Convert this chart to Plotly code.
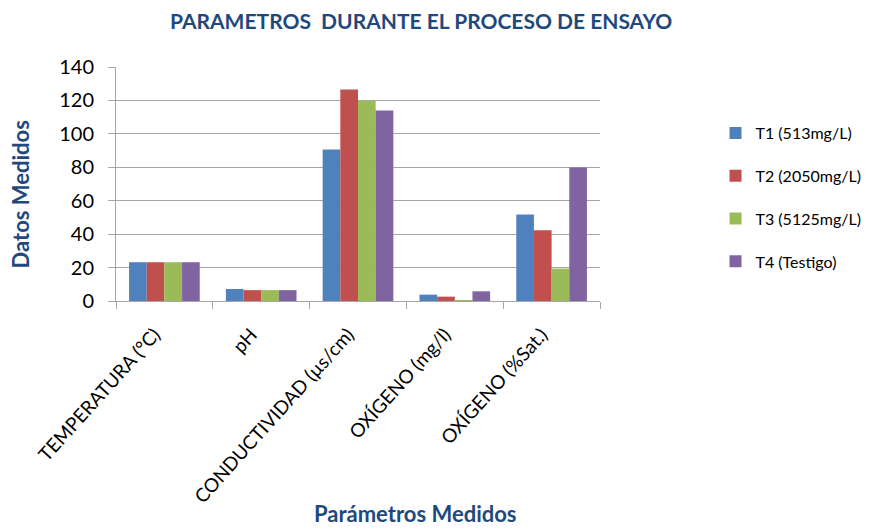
import plotly.graph_objects as go

categories = ["TEMPERATURA (°C)", "pH", "CONDUCTIVIDAD (µs/cm)", "OXÍGENO (mg/l)", "OXÍGENO (%Sat.)"]
series_names = ["T1 (513mg/L)", "T2 (2050mg/L)", "T3 (5125mg/L)", "T4 (Testigo)"]
t1 = [23.2, 7.2, 90.6, 3.8, 51.8]
t2 = [23.2, 6.5, 126.6, 2.6, 42.4]
t3 = [23.2, 6.5, 119.8, 0.6, 19.4]
t4 = [23.2, 6.5, 114.0, 5.8, 79.8]
colors = ["#4F81BD", "#C0504D", "#9BBB59", "#8064A2"]
y_ticks = [0, 20, 40, 60, 80, 100, 120, 140]

FONT = "Lato, 'Open Sans', sans-serif"
TITLE_COLOR = "#1F497D"

# page has an 8px body margin; work in page pixels and subtract it
OFF = 8
W, H = 870, 528 - OFF
L, T = 116 - OFF, 67 - OFF
PW, PH = 486, 234
R, B = W - L - PW, H - T - PH


def px(x):
    return (x - OFF - L) / PW


def py(y):
    return 1 - (y - OFF - T) / PH


fig = go.Figure()
for i, (name, vals) in enumerate(zip(series_names, [t1, t2, t3, t4])):
    fig.add_trace(go.Bar(
        x=categories, y=vals, name=name,
        marker=dict(color=colors[i], line=dict(width=0)),
        legendgroup=f"g{i}",
    ))

fig.update_layout(
    width=W, height=H,
    paper_bgcolor="white", plot_bgcolor="white",
    margin=dict(l=L, r=R, t=T, b=B),
    barmode="group", bargap=0.27, bargroupgap=0,
    font=dict(family=FONT, size=16, color="black"),
    showlegend=True,
    legend=dict(
        x=px(718), xanchor="left", y=py(116), yanchor="top",
        font=dict(family=FONT, size=16, color="black"),
        tracegroupgap=19, itemwidth=30,
        traceorder="grouped",
        bgcolor="rgba(0,0,0,0)",
    ),
    xaxis=dict(
        type="category", tickangle=-48,
        showline=True, linecolor="#A6A6A6", linewidth=1,
        ticks="outside", tickson="boundaries", ticklen=7, tickcolor="#A6A6A6",
        showgrid=False,
        ticklabelstandoff=14, ticklabelshift=-10,
        tickfont=dict(family=FONT, size=19, color="black"),
    ),
    yaxis=dict(
        range=[0, 140], tickvals=y_ticks,
        showline=True, linecolor="#A6A6A6", linewidth=1,
        ticks="outside", ticklen=7, tickcolor="#A6A6A6",
        showgrid=True, gridcolor="#A6A6A6", gridwidth=1,
        zeroline=False,
        ticklabelstandoff=10,
        tickfont=dict(family=FONT, size=20, color="black"),
    ),
    annotations=[
        dict(text="<b>PARAMETROS  DURANTE EL PROCESO DE ENSAYO</b>", x=px(422), y=py(20),
             xanchor="center", yanchor="middle",
             xref="paper", yref="paper", showarrow=False,
             font=dict(family=FONT, size=21, color=TITLE_COLOR)),
        dict(text="<b>Parámetros Medidos</b>", x=px(417), y=py(513),
             xanchor="center", yanchor="middle",
             xref="paper", yref="paper", showarrow=False,
             font=dict(family=FONT, size=22, color=TITLE_COLOR)),
        dict(text="<b>Datos Medidos</b>", x=px(20), y=py(194), textangle=-90,
             xanchor="center", yanchor="middle",
             xref="paper", yref="paper", showarrow=False,
             font=dict(family=FONT, size=22, color=TITLE_COLOR)),
    ],
)

fig.write_html("out.html")
